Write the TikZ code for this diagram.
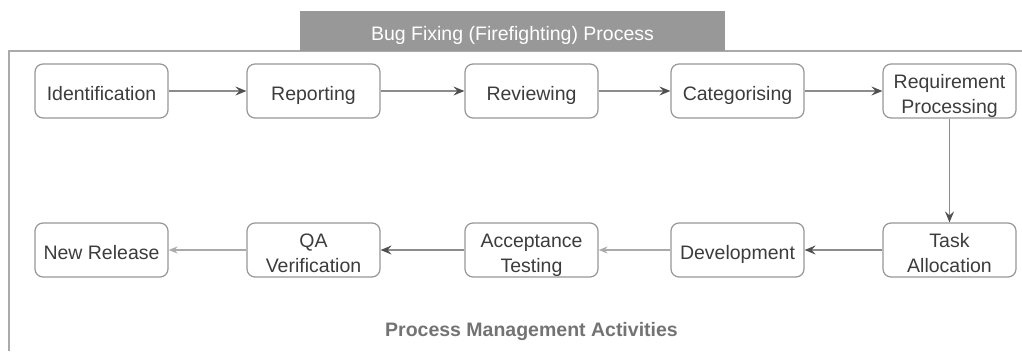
\documentclass[tikz,border=0pt]{standalone}
\usepackage{fontspec}
\setmainfont{Liberation Sans}
\usetikzlibrary{arrows.meta}
\definecolor{txt}{RGB}{60,60,60}
\definecolor{bd}{RGB}{150,150,150}
\definecolor{ln}{RGB}{140,140,140}
\definecolor{headdark}{RGB}{80,80,80}
\definecolor{headlight}{RGB}{170,170,170}
\definecolor{titlefill}{RGB}{152,152,152}
\definecolor{framec}{RGB}{170,170,170}
\definecolor{foot}{RGB}{115,115,115}
\tikzset{
  proc/.style={draw=bd, line width=1.2pt, rounded corners=8pt, minimum width=133pt, minimum height=54pt,
    align=center, text=txt, font=\fontsize{19.5}{25}\selectfont, inner sep=0pt},
  procone/.style={proc, text height=19pt, text depth=0pt},
  proctwo/.style={proc, text height=44.6pt, text depth=0pt},
  flowdark/.style={draw=ln, line width=1.4pt, -{Stealth[length=11pt,width=9pt,inset=4pt,color=headdark]}},
  flowlight/.style={draw=headlight, line width=1.4pt, -{Stealth[length=9pt,width=7pt,inset=3pt,color=headlight]}},
}
\begin{document}
\begin{tikzpicture}[x=1pt,y=-1pt]
\useasboundingbox (0,0) rectangle (1022,351);
% frame
\draw[framec, line width=1.3pt] (9,351) -- (9,51) -- (1022,51);
\node[fill=titlefill, minimum width=425pt, minimum height=40pt, inner sep=0pt, text=white,
  text height=19pt, text depth=0pt, font=\fontsize{19.5}{22}\selectfont] (title) at (512.5,31) {Bug Fixing (Firefighting) Process};
% row 1
\node[procone] (ident) at (101.5,91) {Identification};
\node[procone] (rep) at (313.5,91) {Reporting};
\node[procone] (rev) at (531.5,91) {Reviewing};
\node[procone] (cat) at (737.5,91) {Categorising};
\node[proctwo] (req) at (949.5,91) {Requirement\\Processing};
% row 2
\node[procone] (newrel) at (101.5,250) {New Release};
\node[proctwo] (qa) at (313.5,250) {QA\\Verification};
\node[proctwo] (acc) at (531.5,250) {Acceptance\\Testing};
\node[procone] (dev) at (737.5,250) {Development};
\node[proctwo] (task) at (949.5,250) {Task\\Allocation};
% arrows
\draw[flowdark] (ident) -- (rep);
\draw[flowdark] (rep) -- (rev);
\draw[flowdark] (rev) -- (cat);
\draw[flowdark] (cat) -- (req);
\draw[flowdark] (req) -- (task);
\draw[flowdark] (task) -- (dev);
\draw[flowlight] (dev) -- (acc);
\draw[flowdark] (acc) -- (qa);
\draw[flowlight] (qa) -- (newrel);
% footer
\node[text=foot, font=\fontsize{19.5}{22}\selectfont\bfseries] (footer) at (531.5,331) {Process Management Activities};
\end{tikzpicture}
\end{document}
